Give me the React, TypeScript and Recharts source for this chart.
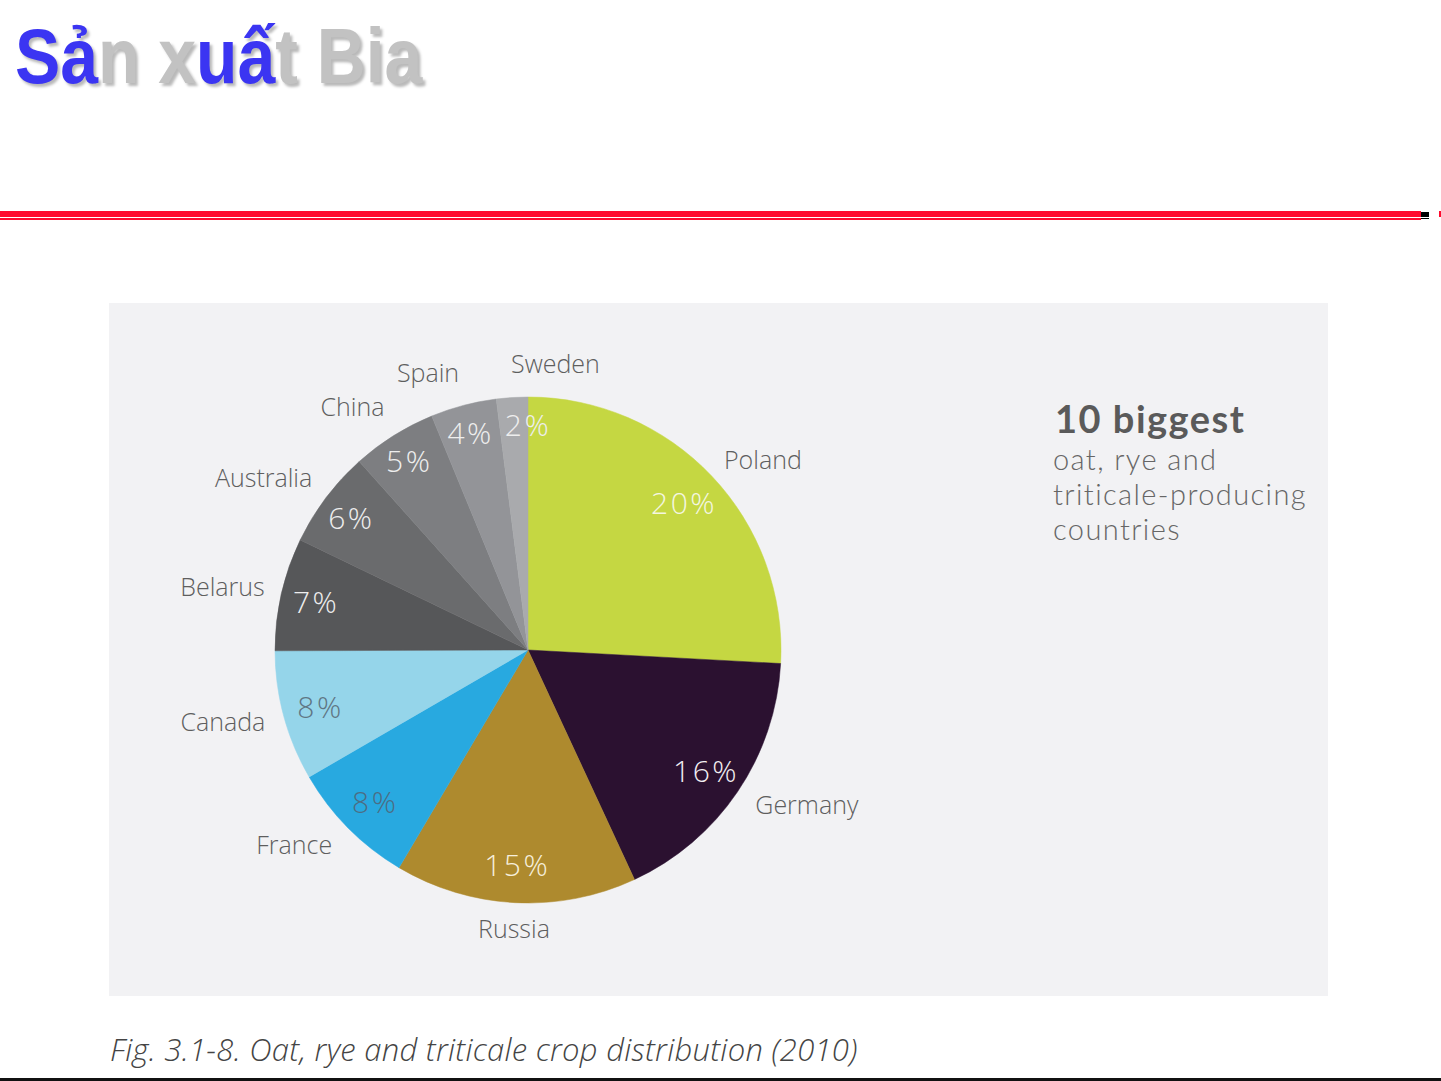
import React from 'react';
import { PieChart, Pie, Cell } from 'recharts';

// Countries in clockwise order starting at 12 o'clock
const countries = ['Poland', 'Germany', 'Russia', 'France', 'Canada', 'Belarus', 'Australia', 'China', 'Spain', 'Sweden'];
// Slice shares as drawn in the picture (angle / 3.6)
const sliceShares = [25.8, 17.2, 15.4, 8.1, 8.3, 7.2, 6.2, 5.4, 4.2, 2.0];
// Percentages as printed on the slices
const printedPercents = [20, 16, 15, 8, 8, 7, 6, 5, 4, 2];

const SLICE_COLORS = ['#c5d742', '#2b1130', '#ae8a2e', '#28a9e0', '#95d5ea', '#565759', '#6a6b6d', '#7d7e81', '#939498', '#a9aaad'];
const PCT_COLORS = ['#f4f6e0', '#f2eef2', '#f6efdc', '#4c6d84', '#5f7684', '#eeeeee', '#eeeeee', '#eeeeee', '#eeeeee', '#eeeeee'];

const sideLines = ['oat, rye and', 'triticale-producing', 'countries'];

const data = countries.map((name, i) => ({ name, value: sliceShares[i] }));

const RAD = Math.PI / 180;
const LABEL_FONT = '"Open Sans", "DejaVu Sans", sans-serif';
const SIDE_FONT = 'Lato, "Open Sans", sans-serif';

function renderLabel(props: any) {
  const { cx, cy, midAngle, endAngle, outerRadius, index, percent } = props;
  // very thin slices put their value at the slice's trailing edge
  const pctAngle = percent < 0.03 ? endAngle : midAngle;
  const pc = Math.cos(-pctAngle * RAD);
  const ps = Math.sin(-pctAngle * RAD);
  const c = Math.cos(-midAngle * RAD);
  const s = Math.sin(-midAngle * RAD);
  const upperLeft = c < 0 && s < 0;
  const ri = outerRadius * 0.85 + (upperLeft ? 10 * -s : 0);
  const ix = cx + ri * pc;
  const iy = cy + ri * ps;
  const ro = outerRadius + 17 + 8 * Math.max(0, s);
  const ox = cx + ro * c;
  const oy = cy + ro * s - 18 * Math.max(0, -s) * (c < 0 ? 1 : 0.4);
  const anchor = s > 0.9 ? 'middle' : c >= -0.1 ? 'start' : 'end';
  return (
    <g key={`lbl-${index}`}>
      <text
        x={ix}
        y={iy}
        fill={PCT_COLORS[index]}
        textAnchor="middle"
        dominantBaseline="central"
        fontFamily={LABEL_FONT}
        fontSize={30}
        fontWeight={300}
        letterSpacing={2.5}
      >
        {printedPercents[index]}%
      </text>
      <text
        x={ox}
        y={oy}
        fill="#5e5e5e"
        textAnchor={anchor}
        dominantBaseline="central"
        fontFamily={LABEL_FONT}
        fontSize={25}
        fontWeight={300}
      >
        {countries[index]}
      </text>
    </g>
  );
}

const RED = '#ff0a2e';

export default function App() {
  return (
    <div style={{ position: 'absolute', left: 0, top: 0, width: 1441, height: 1081, background: '#ffffff', overflow: 'hidden' }}>
      {/* Title */}
      <div
        style={{
          position: 'absolute',
          left: 15,
          top: 17,
          fontFamily: '"Liberation Sans", Arial, sans-serif',
          fontWeight: 700,
          fontSize: 78,
          lineHeight: '78px',
          whiteSpace: 'nowrap',
          transform: 'scaleX(0.87)',
          transformOrigin: 'left top',
          textShadow: '3px 3px 3px rgba(0,0,0,0.28)',
          color: '#c2c2c2',
        }}
      >
        <span style={{ color: '#3b35f2' }}>Sả</span>
        <span>n x</span>
        <span style={{ color: '#3b35f2' }}>uấ</span>
        <span>t Bia</span>
      </div>

      {/* Red rule */}
      <div style={{ position: 'absolute', left: 0, top: 211, width: 1421, height: 6, background: RED }} />
      <div style={{ position: 'absolute', left: 0, top: 218, width: 1421, height: 2, background: RED }} />
      <div style={{ position: 'absolute', left: 1421, top: 212, width: 8, height: 5, background: '#000' }} />
      <div style={{ position: 'absolute', left: 1421, top: 218, width: 8, height: 1, background: '#000' }} />
      <div style={{ position: 'absolute', left: 1439, top: 211, width: 2, height: 6, background: RED }} />

      {/* Panel */}
      <div style={{ position: 'absolute', left: 109, top: 303, width: 1219, height: 693, background: '#f2f2f4' }} />

      {/* Pie */}
      <div style={{ position: 'absolute', left: 0, top: 0 }}>
        <PieChart width={1441} height={1081} margin={{ top: 0, right: 0, bottom: 0, left: 0 }}>
          <Pie
            data={data}
            dataKey="value"
            nameKey="name"
            cx={528}
            cy={650}
            outerRadius={253}
            startAngle={90}
            endAngle={-270}
            isAnimationActive={false}
            labelLine={false}
            label={renderLabel}
            stroke="none"
          >
            {data.map((d, i) => (
              <Cell key={d.name} fill={SLICE_COLORS[i]} stroke={SLICE_COLORS[i]} strokeWidth={0.5} />
            ))}
          </Pie>
        </PieChart>
      </div>

      {/* Side text */}
      <svg style={{ position: 'absolute', left: 0, top: 0 }} width={1441} height={1081}>
        <text x={1055} y={433} fill="#5a5a5a" fontFamily={SIDE_FONT} fontSize={38} fontWeight={700} letterSpacing={1.5}>10 biggest</text>
        {sideLines.map((t, i) => (
          <text key={t} x={1053} y={470 + i * 35} fill="#666666" fontFamily={SIDE_FONT} fontSize={29} fontWeight={300} letterSpacing={1.4}>
            {t}
          </text>
        ))}
        <text x={110} y={1061} fill="#444444" fontFamily={LABEL_FONT} fontSize={31} fontStyle="italic" fontWeight={300} letterSpacing={0.28}>
          Fig. 3.1-8. Oat, rye and triticale crop distribution (2010)
        </text>
      </svg>

      {/* Bottom rule */}
      <div style={{ position: 'absolute', left: 0, top: 1078, width: 1441, height: 3, background: '#111' }} />
    </div>
  );
}
